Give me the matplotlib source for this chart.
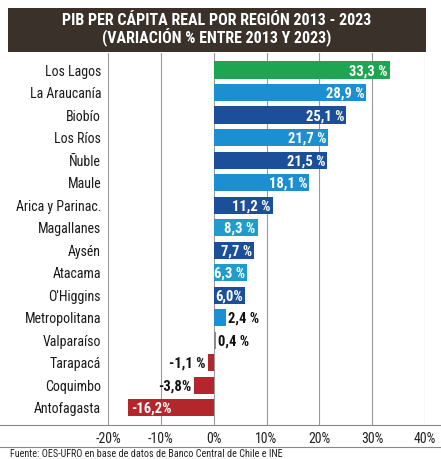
import matplotlib
matplotlib.use("Agg")
import matplotlib.pyplot as plt
from matplotlib.lines import Line2D
from matplotlib.patches import Rectangle

regions = ["Los Lagos", "La Araucanía", "Biobío", "Los Ríos", "Ñuble", "Maule",
           "Arica y Parinac.", "Magallanes", "Aysén", "Atacama", "O'Higgins",
           "Metropolitana", "Valparaíso", "Tarapacá", "Coquimbo", "Antofagasta"]
values = [33.3, 28.9, 25.1, 21.7, 21.5, 18.1, 11.2, 8.3, 7.7, 6.3, 6.0, 2.4, 0.4, -1.1, -3.8, -16.2]
value_labels = ["33,3 %", "28,9 %", "25,1 %", "21,7 %", "21,5 %", "18,1 %", "11,2 %", "8,3 %",
                "7,7 %", "6,3 %", "6,0%", "2,4 %", "0,4 %", "-1,1 %", "-3,8%", "-16,2%"]
xticks = [-20, -10, 0, 10, 20, 30, 40]
xtick_labels = ["-20%", "-10%", "0%", "10%", "20%", "30%", "40%"]
title = "PIB PER CÁPITA REAL POR REGIÓN 2013 - 2023\n(VARIACIÓN % ENTRE 2013 Y 2023)"
source = "Fuente: OES-UFRO en base de datos de Banco Central de Chile e INE"

GREEN = "#1ea552"
LBLUE = "#1b8fd0"
DBLUE = "#1c4f9a"
CYAN = "#209ccc"
GRAY = "#8a8a8a"
RED = "#b3262c"
colors = [GREEN, LBLUE, DBLUE, LBLUE, DBLUE, LBLUE, DBLUE, CYAN, DBLUE, CYAN, DBLUE,
          LBLUE, GRAY, RED, RED, RED]

FONT = ["Roboto Condensed", "Roboto", "DejaVu Sans"]
plt.rcParams["font.family"] = FONT

W, H = 441, 459
fig = plt.figure(figsize=(W / 100, H / 100), dpi=100)
fig.patch.set_facecolor("white")

left, right, top, bottom = 108, 425, 53, 425
ax = fig.add_axes([left / W, 1 - bottom / H, (right - left) / W, (bottom - top) / H])
ax.set_xlim(-20, 40)
ax.set_ylim(15.76, -0.755)
for s in ax.spines.values():
    s.set_visible(False)
ax.set_xticks(xticks)
ax.set_xticklabels(xtick_labels, fontsize=10, color="#222222")
ax.tick_params(axis="x", length=0, pad=5)
ax.set_yticks(range(len(regions)))
ax.set_yticklabels(regions, fontsize=10, color="#1a1a1a")
ax.tick_params(axis="y", length=0, pad=5)
ax.xaxis.grid(True, color="#9a9a9a", linewidth=0.8)
ax.set_axisbelow(True)

ys = list(range(len(regions)))
ax.barh(ys, values, height=0.76, color=colors, zorder=3)

FS = 10.5
for y, v, lab in zip(ys, values, value_labels):
    if v >= 5:
        ax.text(v - 0.4, y + 0.05, lab, ha="right", va="center", color="white",
                fontsize=FS, fontweight="bold", zorder=4)
    elif v >= 0:
        ax.text(v + 0.4, y + 0.05, lab, ha="left", va="center", color="#111111",
                fontsize=FS, fontweight="bold", zorder=4)
    elif v > -10:
        ax.text(v - 0.5, y + 0.05, lab, ha="right", va="center", color="#111111",
                fontsize=FS, fontweight="bold", zorder=4)
    else:
        ax.text(v + 0.6, y + 0.05, lab, ha="left", va="center", color="white",
                fontsize=FS, fontweight="bold", zorder=4)

# title box
fig.patches.append(Rectangle((8 / W, 1 - 52 / H), (426 - 8) / W, (52 - 8) / H,
                             transform=fig.transFigure, facecolor="#3b312b",
                             edgecolor="none", zorder=1))
fig.text(217 / W, 1 - 30 / H, title, ha="center", va="center", color="white",
         fontsize=11.5, fontweight="bold", linespacing=1.05, zorder=2)

# horizontal rules
fig.lines.append(Line2D([0, 1], [1 - 425 / H, 1 - 425 / H], transform=fig.transFigure,
                        color="#888888", linewidth=0.8))
fig.lines.append(Line2D([0, 1], [1 - 447 / H, 1 - 447 / H], transform=fig.transFigure,
                        color="#888888", linewidth=0.8))
fig.text(10 / W, 1 - 454 / H, source, ha="left", va="center", fontsize=7.3, color="#222222")

fig.savefig("out.png", dpi=100, facecolor="white")
